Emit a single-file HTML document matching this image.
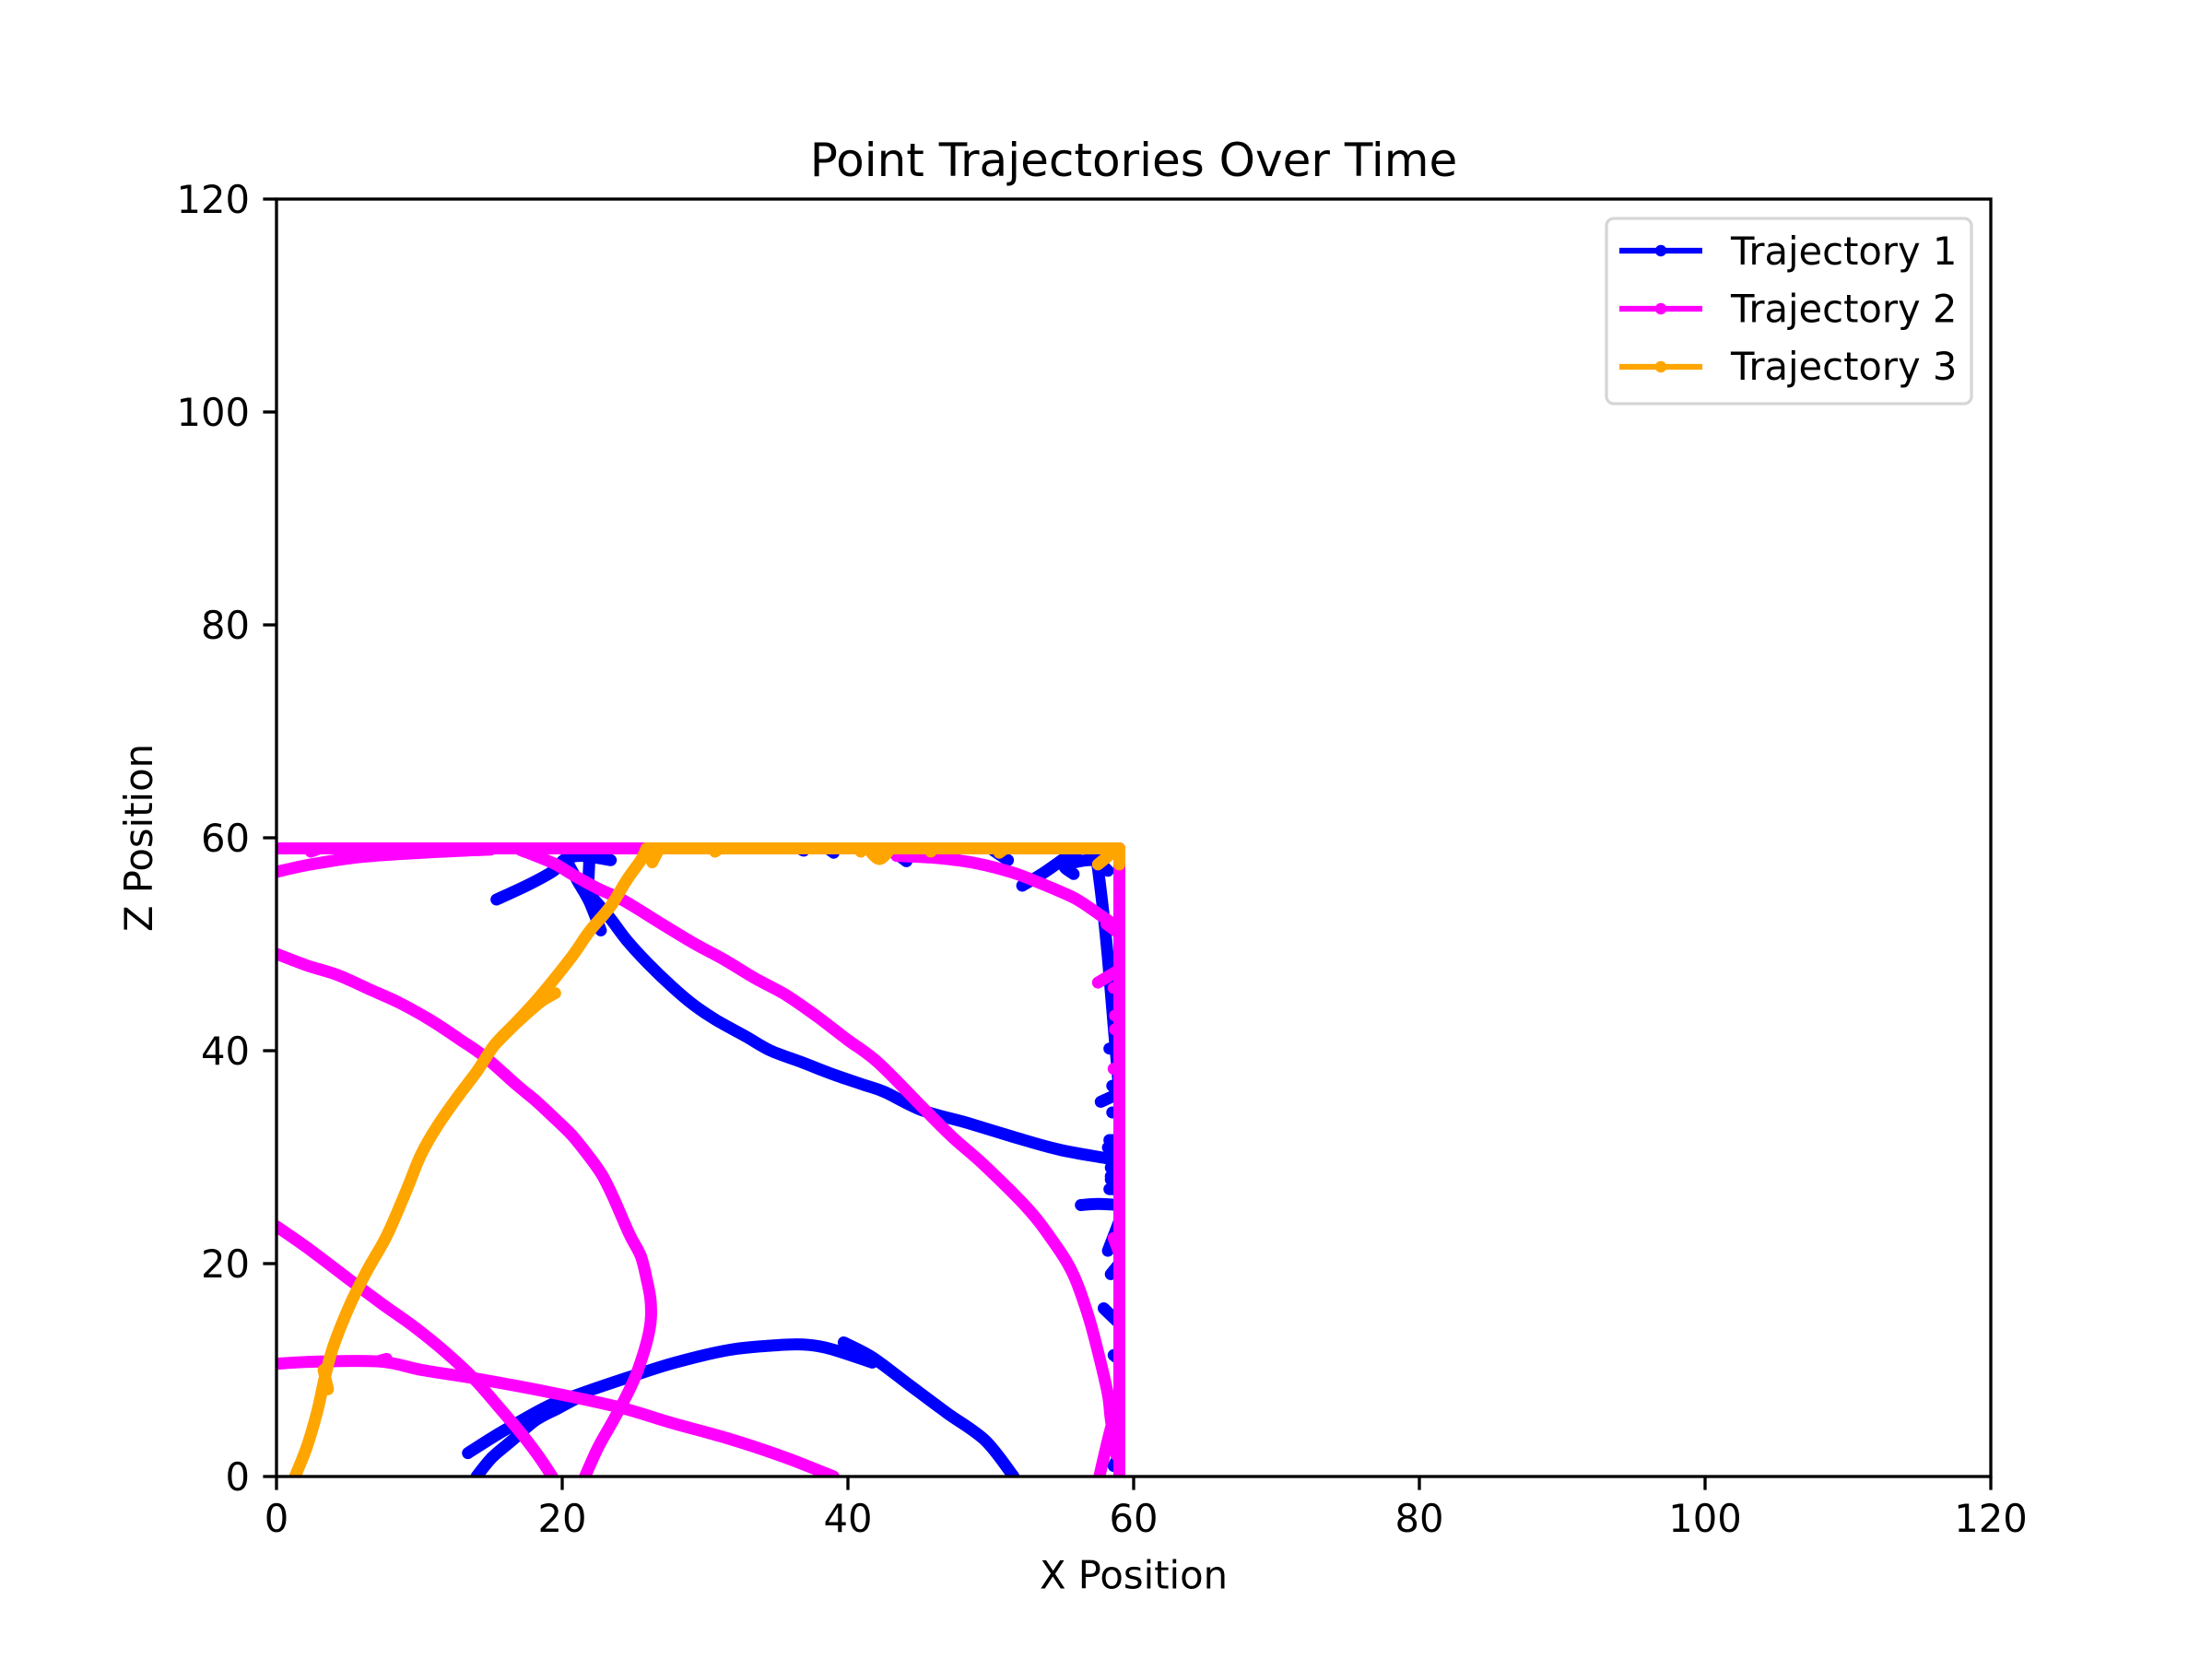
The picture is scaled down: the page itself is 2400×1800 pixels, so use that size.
<!DOCTYPE html>
<html lang="en">
<head>
<meta charset="utf-8">
<title>Point Trajectories Over Time</title>
<style>
html,body{margin:0;padding:0;background:#fff;}
svg{display:block;}
text{font-family:"DejaVu Sans","Liberation Sans",sans-serif;fill:#000;}
</style>
</head>
<body>
<svg id="chart" xmlns="http://www.w3.org/2000/svg" width="2400" height="1800" viewBox="0 0 2400 1800">
  <rect x="0" y="0" width="2400" height="1800" fill="#fff"/>
  <defs><clipPath id="plot-clip"><rect x="300" y="216" width="1860" height="1386"/></clipPath></defs>
  <g id="series-layer" clip-path="url(#plot-clip)"></g>
  <rect x="300" y="216" width="1860" height="1386" fill="none" stroke="#000" stroke-width="3.33"/>
  <g id="tick-layer"></g>
  <text x="1230" y="191" font-size="50" text-anchor="middle">Point Trajectories Over Time</text>
  <text x="1230" y="1723.5" font-size="41.67" text-anchor="middle">X Position</text>
  <text x="0" y="0" font-size="41.67" text-anchor="middle" transform="translate(165 909) rotate(-90)">Z Position</text>
  <g>
    <rect x="1743" y="237" width="396" height="201" rx="8" ry="8" fill="#fff" fill-opacity="0.8" stroke="#d6d6d6" stroke-width="3.33"/>
    <g>
      <line x1="1757" x2="1847" y1="272" y2="272" stroke="#0000ff" stroke-width="6.25"/>
      <circle cx="1802" cy="272" r="6.25" fill="#0000ff"/>
      <text x="1878" y="287" font-size="41.67">Trajectory 1</text>
    </g>
    <g>
      <line x1="1757" x2="1847" y1="335" y2="335" stroke="#ff00ff" stroke-width="6.25"/>
      <circle cx="1802" cy="335" r="6.25" fill="#ff00ff"/>
      <text x="1878" y="349.5" font-size="41.67">Trajectory 2</text>
    </g>
    <g>
      <line x1="1757" x2="1847" y1="398" y2="398" stroke="#ffa500" stroke-width="6.25"/>
      <circle cx="1802" cy="398" r="6.25" fill="#ffa500"/>
      <text x="1878" y="412" font-size="41.67">Trajectory 3</text>
    </g>
  </g>
</svg>
<script>
var xTicks = [0,20,40,60,80,100,120];
var zTicks = [0,20,40,60,80,100,120];

/* Trajectory 1 (blue), [x, z] samples */
var blueMain = [[21.3,55.6],[23.2,52.7],[24.5,50.4],[26,48.2],[27.7,46],[29.2,44.3],[30.75,42.9],[32.9,41.3],[34.6,40],[36.8,38.9],[38.9,37.8],[41.1,36.8],[42.6,36.1],[45.2,34.4],[48.4,33.2],[51.6,31.9],[54.8,30.7],[58.1,29.9],[59,29.7]];
var blueUpperLeft = [[15.4,54.2],[17.65,55.6],[19.4,56.9],[20.2,58],[21.4,58.3],[23.4,57.9]];
var blueTopRun = [[20.2,59],[59,59]];
var blueTopBumpA = [[36.6,59],[36.9,58.8]];
var blueTopBumpB = [[38.6,59],[39,58.6]];
var blueTopBumpC = [[42.9,59],[44.1,57.8]];
var blueStubA = [[22.7,51.3],[21.9,54],[21.1,55.9],[20.4,57.6]];
var blueStubB = [[21.9,58],[21.8,55]];
var blueLowerArc = [[13.4,2.2],[15.65,4.1],[18.9,6.55],[21.1,7.7],[24.6,9.3],[27.9,10.7],[31.7,11.9],[34.7,12.3],[36.8,12.4],[38.75,12],[41.7,10.7]];
var blueLowerStart = [[14,0],[15.1,1.8],[16.5,3.4],[18.1,5.25],[19.7,6.4],[21.1,7.4]];
var blueRightArc = [[39.7,12.6],[41.7,11.2],[44.2,8.7],[46.9,6],[49.6,3.4],[51.6,0]];
var blueWallLine = [[57.4,58.2],[57.8,53.9],[58.2,48.7],[58.6,42.3],[59,36]];
var blueCornerA = [[52.2,55.5],[53.7,56.7],[55.3,58.2],[56,58.7]];
var blueCornerB = [[55.8,56.6],[55.2,57.4],[57.2,57.9],[58.2,56.9]];
var blueTopStubA = [[51.2,57.9],[50.2,58.8]];
var blueWallStubs = [
  [[58.3,40.2],[59,40.2]],
  [[58.5,36.7],[59,36.7]],
  [[57.7,35.2],[59,36]],
  [[58.5,34.2],[59,34.2]],
  [[58.3,31.6],[59,31.6]],
  [[58.2,30.9],[59,30.9]],
  [[58.4,29],[59,29]],
  [[58.4,28.2],[59,28.2]],
  [[58.4,27.9],[59,27.9]],
  [[58.3,27],[59,27]],
  [[56.3,25.5],[57.5,25.6],[59,25.5]],
  [[58.2,21.2],[59,24]],
  [[58.4,19],[59,20]],
  [[57.9,15.8],[58.9,14.5]],
  [[58.6,11.4],[59,11]],
  [[58.6,1],[59,2]]
];

/* Trajectory 2 (magenta) */
var magentaTop = [[0,59],[59,59]];
var magentaUpperLeft = [[0,56.8],[2.4,57.5],[5.9,58.2],[10.2,58.6],[15,58.9]];
var magentaBump = [[2.4,58.7],[3,59]];
var magentaBigCurve = [[0,49.1],[2.15,48],[4.3,47.1],[6.45,45.8],[8.6,44.5],[10.75,42.9],[12.9,41],[14.6,39.4],[16.8,36.8],[18.06,35.4],[19.35,33.8],[20.65,32.1],[21.8,30.2],[22.8,28.3],[23.55,26.3],[24.2,24.3],[24.8,22.5],[25.5,20.7],[25.9,18.6],[26.2,16.3],[26.1,13.7],[25.3,10],[24.5,7.6],[23.5,5.1],[22.5,2.7],[21.6,0]];
var magentaDiagonal = [[0,23.5],[2.4,21.25],[5,18.6],[7.3,16.3],[9.6,14.1],[11.9,11.6],[13.95,9],[15.7,6.3],[17.1,4.1],[18.3,2],[19.3,0]];
var magentaLow = [[0,10.6],[3,10.8],[7.3,10.8],[10.2,10],[13.95,9.2],[18.8,8],[24,6.5],[27.5,5.1],[31.8,3.5],[35.6,1.8],[39,0]];
var magentaLowBump = [[7.3,10.9],[7.7,11.05]];
var magentaLongCurve = [[17.1,58.85],[19.4,57.6],[20.65,56.6],[22.4,55.3],[24.3,54.1],[27.1,51.8],[29.2,50.1],[31.4,48.5],[33.5,46.8],[35.7,45.2],[37.85,43.2],[40,41],[42.1,38.9],[45.2,34.7],[47.3,31.9],[49.5,29.3],[52.5,25.3],[54.2,22.4],[55.7,19.2],[56.8,15.2],[57.6,11.2],[58.2,7.7],[58.4,5.4],[58.8,2]];
var magentaBottomRight = [[57.6,0],[58.3,4],[59,7.5]];
var magentaTopRight = [[43.4,58.3],[46.2,58.1],[49,57.6],[51.6,56.7],[53.7,55.6],[55.9,54.3],[57.6,52.8],[59,51.5]];
var magentaWall = [[59,59],[59,0]];
var magentaWallStubs = [
  [[57.5,46.4],[59,47.6]],
  [[58.1,51.9],[59,51]],
  [[58.6,45.9],[59,45.9]],
  [[58.7,43.3],[59,43.3]],
  [[58.7,42],[59,42]],
  [[58.6,38.3],[59,38.3]],
  [[58.6,22.4],[59,21]]
];

/* Trajectory 3 (orange) */
var orangeRise = [[1.3,0],[2.1,2.7],[2.85,6.1],[3.4,9.4],[4,12.3],[5.2,16.3],[6.45,19.6],[7.75,22.7],[9.1,26.9],[10.1,30.2],[11.2,32.8],[12.7,35.7],[14,38],[15.3,40.6],[16.8,42.7],[18.5,45.2],[20.65,48.8],[21.9,51.2],[23.4,53.6],[24.5,56],[25.5,57.9],[25.9,59]];
var orangeBranch = [[15.3,40.6],[16.8,42.6],[18.5,44.6],[19.5,45.4]];
var orangeTop = [[25.9,59],[59,59]];
var orangeStubs = [
  [[3.6,8.2],[3.3,10]],
  [[26.3,57.7],[26.8,59]],
  [[41.4,59],[42.2,58],[43,59]],
  [[40.9,58.7],[41,59]],
  [[45.8,58.7],[46,59]],
  [[30.7,58.7],[31,59]],
  [[50.6,58.6],[51,59]],
  [[57.5,57.5],[58.6,58.7]],
  [[59,57.5],[59,59]]
];

var blueSegments = [blueMain,blueUpperLeft,blueTopRun,blueTopBumpA,blueTopBumpB,blueTopBumpC,blueStubA,blueStubB,blueLowerArc,blueLowerStart,blueRightArc,blueWallLine,blueCornerA,blueCornerB,blueTopStubA].concat(blueWallStubs);
var magentaSegments = [magentaTop,magentaUpperLeft,magentaBump,magentaBigCurve,magentaDiagonal,magentaLow,magentaLowBump,magentaLongCurve,magentaBottomRight,magentaTopRight,magentaWall].concat(magentaWallStubs);
var orangeSegments = [orangeRise,orangeBranch,orangeTop].concat(orangeStubs);

var NS = 'http://www.w3.org/2000/svg';
var plotLeft = 300, plotRight = 2160, plotTop = 216, plotBottom = 1602;
var axisMax = 120;
function xScale(v){ return plotLeft + v * (plotRight - plotLeft) / axisMax; }
function zScale(v){ return plotBottom - v * (plotBottom - plotTop) / axisMax; }

function smoothPath(seg){
  var pts = seg.map(function(p){ return [xScale(p[0]), zScale(p[1])]; });
  var d = 'M' + pts[0][0].toFixed(1) + ' ' + pts[0][1].toFixed(1);
  for (var i = 0; i < pts.length - 1; i++){
    var p0 = pts[i > 0 ? i - 1 : i], p1 = pts[i], p2 = pts[i + 1], p3 = pts[i + 2 < pts.length ? i + 2 : i + 1];
    var c1x = p1[0] + (p2[0] - p0[0]) / 6, c1y = p1[1] + (p2[1] - p0[1]) / 6;
    var c2x = p2[0] - (p3[0] - p1[0]) / 6, c2y = p2[1] - (p3[1] - p1[1]) / 6;
    d += 'C' + c1x.toFixed(1) + ' ' + c1y.toFixed(1) + ' ' + c2x.toFixed(1) + ' ' + c2y.toFixed(1) + ' ' + p2[0].toFixed(1) + ' ' + p2[1].toFixed(1);
  }
  return d;
}

function drawSeries(segments, color, seriesName){
  var layer = document.getElementById('series-layer');
  var group = document.createElementNS(NS, 'g');
  
  
  segments.forEach(function(seg){
    var line = document.createElementNS(NS, 'path');
    
    
    line.setAttribute('d', smoothPath(seg));
    line.setAttribute('fill', 'none');
    line.setAttribute('stroke', color);
    line.setAttribute('stroke-width', '13');
    line.setAttribute('stroke-linecap', 'round');
    line.setAttribute('stroke-linejoin', 'round');
    group.appendChild(line);
  });
  layer.appendChild(group);
}
drawSeries(blueSegments, '#0000ff', 'trajectory-1');
drawSeries(magentaSegments, '#ff00ff', 'trajectory-2');
drawSeries(orangeSegments, '#ffa500', 'trajectory-3');

var tickLayer = document.getElementById('tick-layer');
xTicks.forEach(function(t){
  var mark = document.createElementNS(NS, 'line');
  
  
  mark.setAttribute('x1', xScale(t));
  mark.setAttribute('x2', xScale(t));
  mark.setAttribute('y1', plotBottom);
  mark.setAttribute('y2', plotBottom + 14.6);
  mark.setAttribute('stroke', '#000');
  mark.setAttribute('stroke-width', '3.33');
  tickLayer.appendChild(mark);
  var label = document.createElementNS(NS, 'text');
  
  
  label.setAttribute('x', xScale(t));
  label.setAttribute('y', plotBottom + 60);
  label.setAttribute('font-size', '41.67');
  label.setAttribute('text-anchor', 'middle');
  label.textContent = String(t);
  tickLayer.appendChild(label);
});
zTicks.forEach(function(t){
  var mark = document.createElementNS(NS, 'line');
  
  
  mark.setAttribute('x1', plotLeft - 14.6);
  mark.setAttribute('x2', plotLeft);
  mark.setAttribute('y1', zScale(t));
  mark.setAttribute('y2', zScale(t));
  mark.setAttribute('stroke', '#000');
  mark.setAttribute('stroke-width', '3.33');
  tickLayer.appendChild(mark);
  var label = document.createElementNS(NS, 'text');
  
  
  label.setAttribute('x', plotLeft - 29);
  label.setAttribute('y', zScale(t) + 15.2);
  label.setAttribute('font-size', '41.67');
  label.setAttribute('text-anchor', 'end');
  label.textContent = String(t);
  tickLayer.appendChild(label);
});
</script>
</body>
</html>
